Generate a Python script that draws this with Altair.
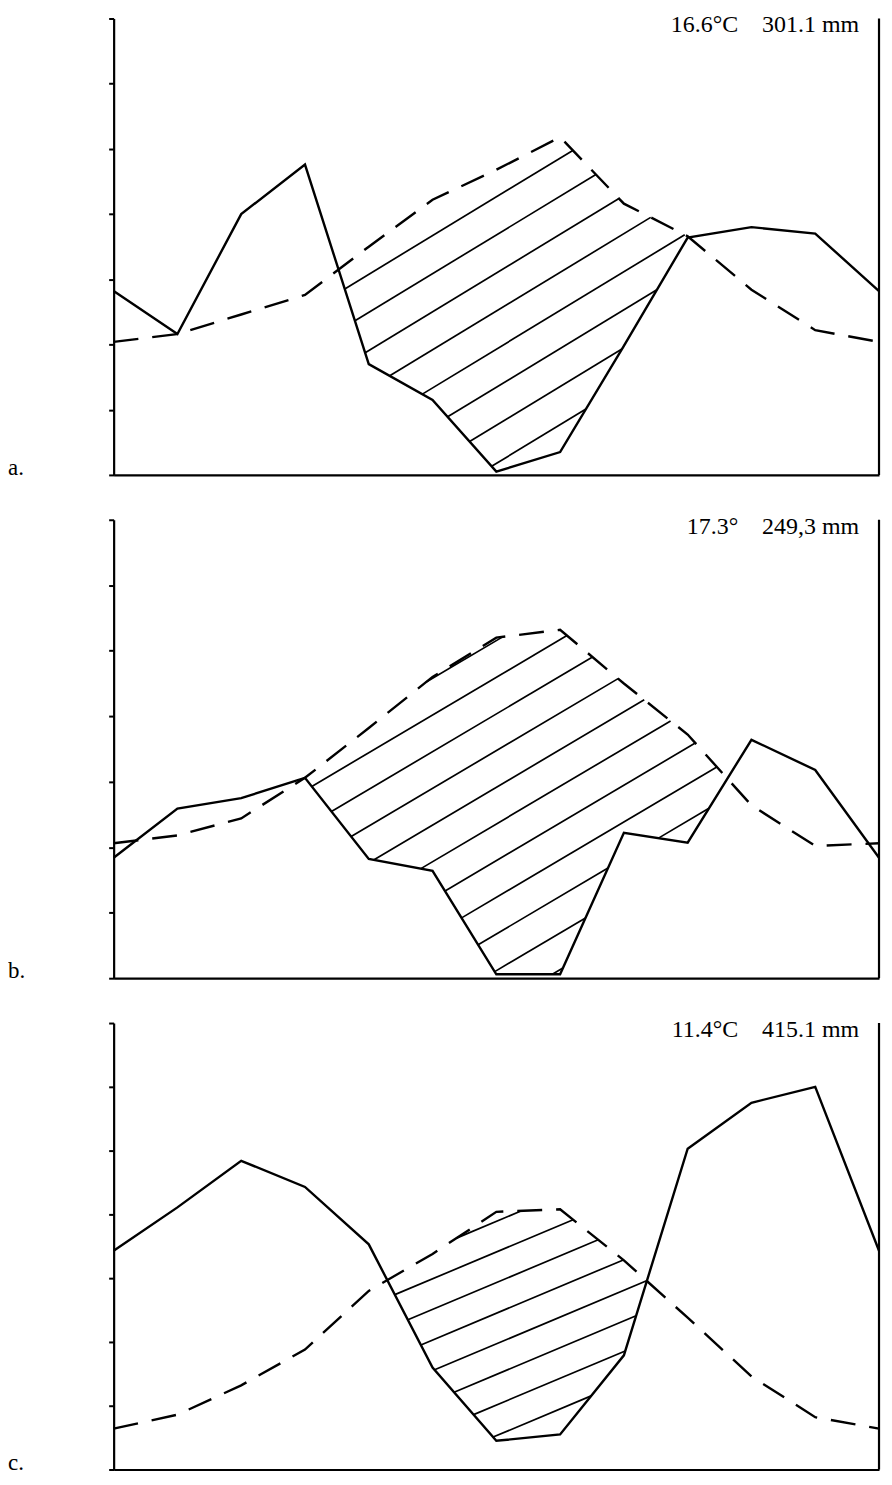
import altair as alt
import numpy as np
import pandas as pd

# ---- data ----
months = list(range(13))  # Jan .. Dec, then Jan again at the right edge

temp_a = [10.2, 10.8, 12.3, 13.8, 17.5, 21.1, 23.4, 25.9, 20.8, 18.3, 14.2, 11.1]
prec_a = [28.2, 21.6, 40.0, 47.6, 17.0, 11.5, 0.5, 3.5, 19.8, 36.4, 38.0, 37.0]

temp_b = [10.3, 10.9, 12.2, 15.3, 19.1, 23.0, 26.0, 26.6, 22.5, 18.6, 13.2, 10.1]
prec_b = [18.4, 25.9, 27.5, 30.6, 18.2, 16.4, 0.6, 0.6, 22.2, 20.7, 36.4, 31.8]

temp_c = [3.2, 4.3, 6.6, 9.4, 14.0, 16.9, 20.2, 20.4, 16.4, 11.9, 7.3, 4.1]
prec_c = [34.3, 41.1, 48.4, 44.3, 35.3, 16.0, 4.5, 5.5, 17.9, 50.3, 57.5, 60.0]

panel_labels = ["a.", "b.", "c."]
NB = "\u00a0"
annotations = [
    "16.6°C" + NB * 4 + "301.1" + NB + "mm",
    "17.3°" + NB * 4 + "249,3" + NB + "mm",
    "11.4°C" + NB * 4 + "415.1" + NB + "mm",
]

# ---- style parameters ----
W = 768
heights = [458, 460, 448]
# hatch: slope (°C per month), spacing (°C), reference point, x-range
hatch_style = [
    dict(slope=2.97, spacing=2.92, x0=3.67, y0=14.4, xlo=2.5, xhi=10.5),
    dict(slope=2.88, spacing=2.80, x0=3.44, y0=12.8, xlo=2.5, xhi=10.5),
    dict(slope=2.10, spacing=2.40, x0=4.50, y0=13.9, xlo=3.0, xhi=10.0),
]
FONT = "Liberation Serif"


def hatch_lines(temp, prec, slope, spacing, x0, y0, xlo, xhi):
    t = np.array(temp + temp[:1], dtype=float)
    p = np.array(prec + prec[:1], dtype=float) / 2.0
    xs = np.linspace(xlo, xhi, 8001)
    lo = np.interp(xs, months, p)
    hi = np.interp(xs, months, t)
    c0 = y0 - slope * x0
    rows = []
    for k in range(-40, 41):
        c = c0 + k * spacing
        yl = slope * xs + c
        ins = (yl >= lo) & (yl <= hi)
        edges = np.flatnonzero(np.diff(np.concatenate([[0], ins.astype(int), [0]])))
        for s, e in zip(edges[::2], edges[1::2]):
            if e - s < 4:
                continue
            rows.append(dict(x=xs[s], y=yl[s], x2=xs[e - 1], y2=yl[e - 1]))
    return pd.DataFrame(rows)


xscale = alt.Scale(domain=[0, 12], nice=False, zero=False)
yscale = alt.Scale(domain=[0, 35], nice=False, zero=True)
xaxis = alt.Axis(labels=False, ticks=False, grid=False, domainWidth=2.2,
                 domainColor="black", title=None)
yaxis = alt.Axis(labels=False, ticks=True, tickSize=5, tickWidth=2, grid=False,
                 domainWidth=2.2, domainColor="black", tickColor="black",
                 values=[0, 5, 10, 15, 20, 25, 30, 35], title=None)


def panel(temp, prec, label, annot, H, hs):
    df = pd.DataFrame({
        "month": months,
        "temp": temp + temp[:1],
        "prec": [v / 2.0 for v in prec + prec[:1]],
    })
    hdf = hatch_lines(temp, prec, **hs)
    X = lambda f: alt.X(f, type="quantitative", scale=xscale, axis=xaxis)
    Y = lambda f: alt.Y(f, type="quantitative", scale=yscale, axis=yaxis)

    hatch = alt.Chart(hdf).mark_rule(color="black", strokeWidth=1.7).encode(
        x=X("x"), y=Y("y"), x2="x2", y2="y2")
    tline = alt.Chart(df).mark_line(color="black", strokeWidth=2.4,
                                    strokeDash=[25, 14]).encode(x=X("month"), y=Y("temp"))
    pline = alt.Chart(df).mark_line(color="black", strokeWidth=2.4).encode(
        x=X("month"), y=Y("prec"))
    border = alt.Chart(pd.DataFrame({"d": [0]})).mark_rule(
        color="black", strokeWidth=2.2).encode(
        x=alt.XDatum(12, type="quantitative", scale=xscale, axis=xaxis),
        y=alt.YDatum(0, type="quantitative", scale=yscale, axis=yaxis),
        y2=alt.Y2Datum(35))
    lab = alt.Chart(pd.DataFrame({"t": [label]})).mark_text(
        align="left", baseline="alphabetic", font=FONT, fontSize=23,
        color="black").encode(x=alt.value(-106), y=alt.value(H), text="t:N")
    ann = alt.Chart(pd.DataFrame({"t": [annot]})).mark_text(
        align="right", baseline="alphabetic", font=FONT, fontSize=24,
        color="black").encode(x=alt.value(W - 20), y=alt.value(14), text="t:N")
    return alt.layer(hatch, tline, pline, border, lab, ann).properties(width=W, height=H)


charts = []
for temp, prec, label, annot, H, hs in zip(
        [temp_a, temp_b, temp_c], [prec_a, prec_b, prec_c],
        panel_labels, annotations, heights, hatch_style):
    charts.append(panel(temp, prec, label, annot, H, hs))

chart = alt.vconcat(*charts, spacing=45, bounds="flush").properties(
    padding={"left": 0, "top": 3, "right": 0, "bottom": 0}
).configure_view(strokeWidth=0)

chart.save("out.html", embed_options={"renderer": "svg", "actions": False})
